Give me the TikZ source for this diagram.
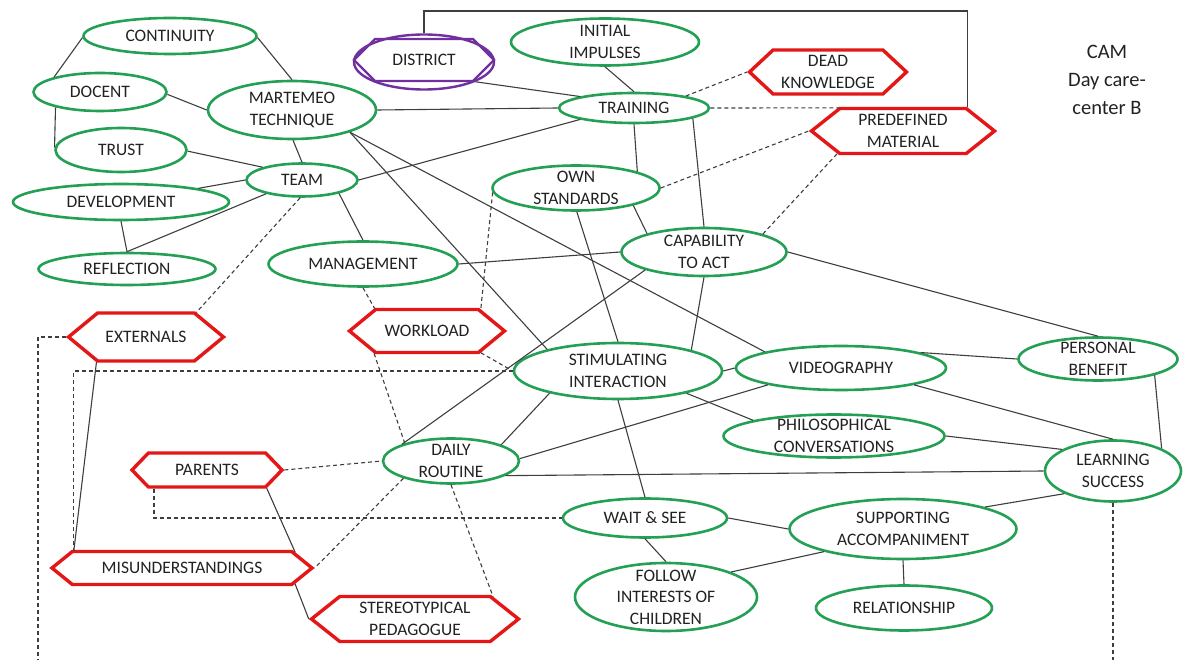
\documentclass[tikz,border=0pt]{standalone}
\usepackage{fontspec}
\setmainfont{Carlito}
\usetikzlibrary{shapes.geometric,shapes.symbols}
\definecolor{nodegreen}{RGB}{36,160,84}
\definecolor{hexred}{RGB}{228,22,22}
\definecolor{distpurple}{RGB}{112,48,160}
\definecolor{linkgray}{RGB}{62,62,62}
\definecolor{inkgray}{RGB}{34,34,34}
\begin{document}
\begin{tikzpicture}[x=1pt,y=-1pt,
  lbl/.style={font=\fontsize{17.5}{21.5}\selectfont, text=inkgray, align=center, inner sep=0pt},
  say/.style={label={[lbl]center:{#1}}},
  dim/.style 2 args={minimum width=#1pt, minimum height=#2pt},
  goodnode/.style={ellipse, draw=nodegreen, line width=2.6pt, fill=white, inner sep=0pt},
  badnode/.style={signal, signal to=west and east, signal pointer angle=#1,
    draw=hexred, line width=3.4pt, fill=white, inner sep=0pt},
  link/.style={draw=linkgray, line width=1.1pt},
  dlink/.style={link, dash pattern=on 4pt off 3pt},
]
\useasboundingbox (0,0) rectangle (1187,660);

% positive concepts (green ellipses)
\node[goodnode, dim={173}{36}, say={CONTINUITY}] (cont) at (170,36) {};
\node[goodnode, dim={133}{38}, say={DOCENT}] (doc) at (100,92) {};
\node[goodnode, dim={168}{58}, say={MARTEMEO\\TECHNIQUE}] (mart) at (292,110) {};
\node[goodnode, dim={131}{44}, say={TRUST}] (trust) at (121,150) {};
\node[goodnode, dim={111}{33}, say={TEAM}] (team) at (302,180) {};
\node[goodnode, dim={216}{36}, say={DEVELOPMENT}] (dev) at (121,202) {};
\node[goodnode, dim={177}{32}, say={REFLECTION}] (refl) at (127,269) {};
\node[goodnode, dim={188}{47}, say={INITIAL\\IMPULSES}] (imp) at (605,42) {};
\node[goodnode, dim={150}{30}, say={TRAINING}] (train) at (634,108) {};
\node[goodnode, dim={167}{45}, say={OWN\\STANDARDS}] (own) at (576,188) {};
\node[goodnode, dim={165}{48}, say={CAPABILITY\\TO ACT}] (cap) at (704,252) {};
\node[goodnode, dim={189}{45}, say={MANAGEMENT}] (mgmt) at (363,264) {};
\node[goodnode, dim={208}{56}, say={STIMULATING\\INTERACTION}] (stim) at (618,371) {};
\node[goodnode, dim={210}{44}, say={VIDEOGRAPHY}] (video) at (841,368) {};
\node[goodnode, dim={159}{43}, say={PERSONAL\\BENEFIT}] (pers) at (1098,359) {};
\node[goodnode, dim={221}{43}, say={PHILOSOPHICAL\\CONVERSATIONS}] (phil) at (834,436) {};
\node[goodnode, dim={136}{45}, say={DAILY\\ROUTINE}] (daily) at (451,461) {};
\node[goodnode, dim={136}{61}, say={LEARNING\\SUCCESS}] (learn) at (1113,471) {};
\node[goodnode, dim={164}{39}, say={WAIT \& SEE}] (wait) at (645,518) {};
\node[goodnode, dim={227}{60}, say={SUPPORTING\\ACCOMPANIMENT}] (supp) at (903,529) {};
\node[goodnode, dim={182}{68}, say={FOLLOW\\INTERESTS OF\\CHILDREN}] (follow) at (666,597) {};
\node[goodnode, dim={176}{45}, say={RELATIONSHIP}] (rel) at (904,608) {};

% district: ellipse with an inscribed hexagon
\node[ellipse, draw=distpurple, line width=2.4pt, fill=white, inner sep=0pt, dim={140}{55}] (dist) at (424,62) {};
\node[signal, signal to=west and east, signal pointer angle=90, draw=distpurple,
  line width=2.4pt, inner sep=0pt, dim={140}{42}, say={DISTRICT}] (disthex) at (424,60) {};

% negative concepts (red hexagons)
\node[badnode=86, dim={157}{44}, say={DEAD\\KNOWLEDGE}] (dead) at (828,72) {};
\node[badnode=77, dim={183}{45}, say={PREDEFINED\\MATERIAL}] (pre) at (903,131) {};
\node[badnode=79, dim={155}{48}, say={EXTERNALS}] (ext) at (146,337) {};
\node[badnode=79, dim={155}{43}, say={WORKLOAD}] (work) at (427,331) {};
\node[badnode=92, dim={150}{34}, say={PARENTS}] (parents) at (207,470) {};
\node[badnode=78, dim={260}{33}, say={MISUNDERSTANDINGS}] (mis) at (182,568) {};
\node[badnode=77, dim={207}{45}, say={STEREOTYPICAL\\PEDAGOGUE}] (stereo) at (415,619) {};

% title
\node[font=\fontsize{20.5}{28}\selectfont, text=inkgray, align=center] (cam) at (1107,80) {CAM\\Day care-\\center B};

% solid connectors
\draw[link] (cont.181) -- (doc.162);
\draw[link] (cont.-1) -- (mart.90);
\draw[link] (doc.-2) -- (mart.180);
\draw[link] (doc.199) -- (trust.178);
\draw[link] (trust.-1) -- (team.162);
\draw[link] (mart.-88) -- (team.90);
\draw[link] (dev.10) -- (team.180);
\draw[link] (team.201) -- (refl.90);
\draw[link] (dev.-90) -- (refl.90);
\draw[link] (team.0) -- (train.192);
\draw[link] (team.-20) -- (mgmt.90);
\draw[link] (mart.0) -- (train.180);
\draw[link] (dist.-21) -- (train.168);
\draw[link] (imp.-90) -- (train.90);
\draw[link] (train.-90) -- (own.15);
\draw[link] (train.-10) -- (cap.90);
\draw[link] (mart.-21) -- (stim.163);
\draw[link] (mart.-21) -- (video.168);
\draw[link] (own.-88) -- (stim.90);
\draw[link] (own.-17) -- (cap.162);
\draw[link] (mgmt.0) -- (cap.180);
\draw[link] (cap.-90) -- (stim.16);
\draw[link] (cap.197) -- (daily.161);
\draw[link] (cap.0) -- (pers.90);
\draw[link] (stim.0) -- (video.180);
\draw[link] (stim.-18) -- (phil.169);
\draw[link] (stim.198) -- (daily.18);
\draw[link] (stim.-90) -- (wait.90);
\draw[link] (video.193) -- (daily.2);
\draw[link] (video.11) -- (pers.180);
\draw[link] (video.-13) -- (learn.90);
\draw[link] (phil.0) -- (learn.157);
\draw[link] (daily.-15) -- (learn.180);
\draw[link] (pers.-16) -- (learn.25);
\draw[link] (wait.0) -- (supp.180);
\draw[link] (wait.-90) -- (follow.90);
\draw[link] (follow.21) -- (supp.196);
\draw[link] (supp.15) -- (learn.205);
\draw[link] (supp.-90) -- (rel.90);
\draw[link] (ext.207) -- (mis.171.4);
\draw[link] (parents.-17.2) -- (mis.8.7);
\draw[link] (mis.-8.5) -- (stereo.180);
\coordinate (topbar) at (0,11);
\draw[link] (dist.90) -- (dist.90 |- topbar) -- (pre.20.2 |- topbar) -- (pre.20.2);

% dashed connectors
\draw[dlink] (train.13) -- (dead.180);
\draw[dlink] (train.0) -- (pre.160.9);
\draw[dlink] (own.0) -- (pre.180);
\draw[dlink] (cap.17) -- (pre.199.4);
\draw[dlink] (team.-96) -- (ext.26);
\draw[dlink] (mgmt.-90) -- (work.157.1);
\draw[dlink] (own.183) -- (work.22.9);
\draw[dlink] (work.-22.1) -- (stim.180);
\draw[dlink] (work.203.7) -- (daily.159);
\draw[dlink] (stim.180) -| (mis.171.4);
\coordinate (leftend) at (38,660);
\draw[dlink] (ext.180) -| (leftend);
\coordinate (rightend) at (1113,660);
\draw[dlink] (learn.-90) -- (rightend);
\draw[dlink] (parents.0) -- (daily.180);
\draw[dlink] ([xshift=-53pt]parents.south) |- (wait.180);
\draw[dlink] (daily.200) -- (mis.0);
\draw[dlink] (daily.-90) -- (stereo.16.1);
\end{tikzpicture}
\end{document}
